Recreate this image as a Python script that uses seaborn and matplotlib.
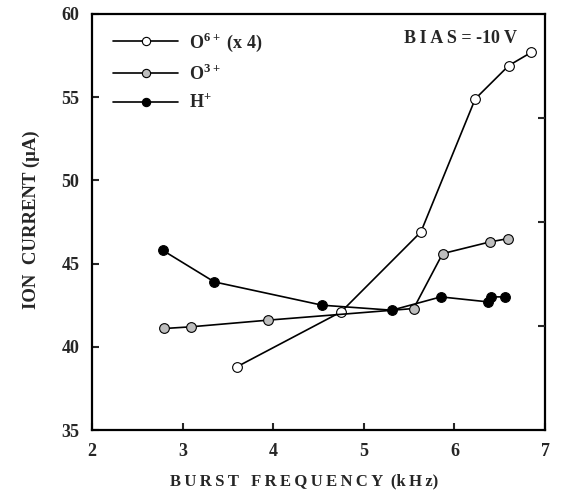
import numpy as np
import pandas as pd
import matplotlib
matplotlib.use("Agg")
import matplotlib.pyplot as plt
import seaborn as sns

# dados
o6_freq = [3.60, 4.75, 5.63, 6.23, 6.60, 6.85]
o6_curr = [38.8, 42.1, 46.9, 54.9, 56.9, 57.7]

o3_freq = [2.80, 3.09, 3.94, 5.55, 5.87, 6.39, 6.59]
o3_curr = [41.1, 41.2, 41.6, 42.3, 45.6, 46.3, 46.5]

h_freq = [2.78, 3.35, 4.54, 5.31, 5.85, 6.37, 6.40, 6.56]
h_curr = [45.8, 43.9, 42.5, 42.2, 43.0, 42.7, 43.0, 43.0]

x_ticks = [2, 3, 4, 5, 6, 7]
y_ticks = [35, 40, 45, 50, 55, 60]

sns.set_theme(style="white")
plt.rcParams["font.family"] = ["Liberation Serif", "DejaVu Serif"]
plt.rcParams["font.weight"] = "bold"
plt.rcParams["mathtext.fontset"] = "custom"
plt.rcParams["mathtext.rm"] = "Liberation Serif:bold"
plt.rcParams["mathtext.bf"] = "Liberation Serif:bold"


def espacar(txt):
    # espaçamento entre letras como no original
    return "\u2009".join(txt)


fig = plt.figure(figsize=(5.76, 4.96), dpi=100)
ax = fig.add_axes([92 / 576, 1 - 430 / 496, (545 - 92) / 576, (430 - 14) / 496])

series = [
    (o6_freq, o6_curr, "white", r"O$^{6+}$ (x 4)"),
    (o3_freq, o3_curr, "#bdbdbd", r"O$^{3+}$"),
    (h_freq, h_curr, "black", r"H$^{+}$"),
]
for fx, cy, face, lab in series:
    df = pd.DataFrame({"freq": fx, "curr": cy})
    sns.lineplot(data=df, x="freq", y="curr", ax=ax, sort=False, estimator=None,
                 color="black", lw=1.2, marker="o", markersize=7,
                 markerfacecolor=face, markeredgecolor="black", markeredgewidth=0.8,
                 label=lab)

ax.set_xlim(2, 7)
ax.set_ylim(35, 60)
ax.set_xticks(x_ticks)
ax.set_yticks(y_ticks)
ax.tick_params(direction="in", length=5, width=1.5, labelsize=13, pad=9,
               top=False, right=False, bottom=True, left=True)
for lbl in ax.get_xticklabels() + ax.get_yticklabels():
    lbl.set_fontweight("bold")
for s in ax.spines.values():
    s.set_linewidth(1.6)
    s.set_color("black")

# marcas do eixo direito (4 divisões)
ax2 = ax.twinx()
ax2.set_ylim(35, 60)
ax2.set_yticks([41.25, 47.5, 53.75])
ax2.set_yticklabels([])
ax2.tick_params(direction="in", length=5, width=1.5, right=True)
ax2.grid(False)
for s in ax2.spines.values():
    s.set_visible(False)

ax.set_xlabel(espacar("BURST") + "   " + espacar("FREQUENCY") + "  (" + espacar("kHz") + ")",
              fontsize=12, fontweight="bold")
ax.xaxis.set_label_coords((304 - 92) / 453, -0.105)
ax.set_ylabel("ION  CURRENT (μA)", fontsize=13.5, fontweight="bold")
ax.yaxis.set_label_coords(-0.115, 0.505)

ax.text(0.938, 0.942, espacar("BIAS") + " = -10 V", transform=ax.transAxes, ha="right",
        va="center", fontsize=13, fontweight="bold")

leg = ax.legend(loc="upper left", frameon=False, fontsize=13, handlelength=3.6,
                handletextpad=0.6, markerscale=0.85, borderaxespad=0.4,
                labelspacing=0.55, bbox_to_anchor=(0.015, 0.995))
for t in leg.get_texts():
    t.set_fontweight("bold")

fig.savefig("out.png", dpi=100)
